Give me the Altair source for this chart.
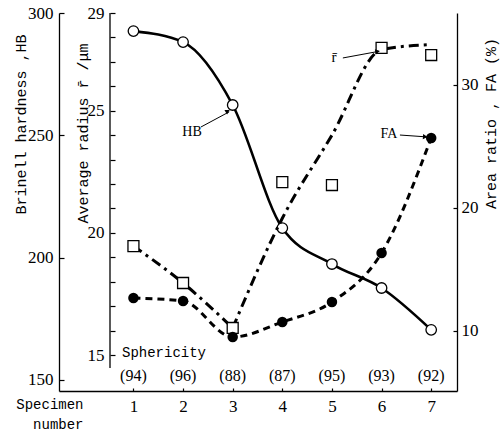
import altair as alt
import pandas as pd

# ---- data ----
specimen = [1, 2, 3, 4, 5, 6, 7]
hb_values = [292.6, 288.1, 262.4, 212.1, 197.4, 187.6, 170.5]
radius_values = [19.46, 17.95, 16.11, 22.08, 21.96, 27.57, 27.28]
fa_values = [12.68, 12.44, 9.51, 10.73, 12.36, 16.34, 25.69]
sphericity = [94, 96, 88, 87, 95, 93, 92]
# drawn (fitted) dash-dot curve for the average radius
radius_fit_x = [1, 2, 3, 3, 4, 5, 6, 6.92]
radius_fit = [19.46, 17.95, 16.11, 16.11, 20.6, 24.0, 27.5, 27.7]
radius_fit_seg = ["a", "a", "a", "b", "b", "b", "b", "b"]

df = pd.DataFrame({
    "specimen": specimen,
    "HB": hb_values,
    "r": radius_values,
    "FA": fa_values,
    "sph": ["(%d)" % s for s in sphericity],
})
fit_df = pd.DataFrame({"specimen": radius_fit_x, "r": radius_fit, "seg": radius_fit_seg})

SERIF = "Liberation Serif"
MONO = "Liberation Mono"

x_scale = alt.Scale(domain=[-0.5, 7.52], nice=False, zero=False)
x_axis = alt.Axis(
    values=specimen, format="d", grid=False,
    tickSize={"expr": "-3"}, labelPadding=10,
    labelFont=SERIF, labelFontSize=17, labelColor="black",
    title=["Specimen", "number"], titleFont=MONO, titleFontSize=14,
    titleFontWeight="normal", titleAlign="right", titleAnchor="start",
    titleX=24, titleY=6, titleBaseline="top", titleLineHeight=20,
    titleColor="black",
)


def xq(field="specimen"):
    return alt.X(f"{field}:Q", scale=x_scale, axis=x_axis)


# ---- HB (outer left axis) ----
hb_scale = alt.Scale(domain=[145.5, 300], nice=False, zero=False)
hb_axis = alt.Axis(
    orient="left", values=[150, 200, 250, 300], grid=False,
    tickSize={"expr": "-5"}, labelPadding=11,
    labelFont=SERIF, labelFontSize=17, labelColor="black",
    title="Brinell hardness ,HB", titleFont=MONO, titleFontSize=15,
    titleFontWeight="normal", titleAngle=270, titleAlign="center",
    titleBaseline="middle", titleX=-39, titleY=111, titleColor="black",
)


def yhb(field):
    return alt.Y(f"{field}:Q", scale=hb_scale, axis=hb_axis)


hb_line = alt.Chart(df).mark_line(color="black", strokeWidth=2.6, interpolate="monotone").encode(
    x=xq(), y=yhb("HB"))
hb_pts = alt.Chart(df).mark_point(shape="circle", filled=True, fill="white", stroke="black",
                                   strokeWidth=1.3, size=110, opacity=1).encode(x=xq(), y=yhb("HB"))

hb_ann = pd.DataFrame({"x": [2.18], "y": [251.4], "t": ["HB"]})
hb_arr = pd.DataFrame({"x": [2.36], "x2": [2.93], "y": [253.4], "y2": [259.6]})
hb_head = pd.DataFrame({"x": [2.9], "y": [259.9]})
hb_text = alt.Chart(hb_ann).mark_text(font=SERIF, fontSize=14, color="black").encode(
    x=xq("x"), y=yhb("y"), text="t:N")
hb_rule = alt.Chart(hb_arr).mark_rule(color="black", strokeWidth=1).encode(
    x=xq("x"), x2="x2:Q", y=yhb("y"), y2="y2:Q")
hb_tri = alt.Chart(hb_head).mark_point(shape="triangle-up", filled=True, color="black", size=28,
                                        angle=60, opacity=1).encode(x=xq("x"), y=yhb("y"))

sph_text = alt.Chart(df).mark_text(font=SERIF, fontSize=16, color="black").encode(
    x=xq(), y=alt.value(363), text="sph:N")
sph_title = alt.Chart(df.head(1)).mark_text(font=MONO, fontSize=14, color="black", align="left").encode(
    x=alt.value(63), y=alt.value(340), text=alt.value("Sphericity"))

hb_group = alt.layer(hb_line, hb_pts, hb_rule, hb_tri, hb_text, sph_text, sph_title)

# ---- average radius (inner left axis) ----
r_scale = alt.Scale(domain=[13.53, 29], nice=False, zero=False)
r_axis = alt.Axis(
    orient="left", offset=-51, values=list(range(15, 30)), domain=False, grid=False,
    labelExpr="indexof([15, 20, 25, 29], datum.value) >= 0 ? datum.label : ''",
    tickSize={"expr": "-5"}, labelPadding=11,
    labelFont=SERIF, labelFontSize=17, labelColor="black",
    title="Average radius  r\u0304 /\u03bcm", titleFont=MONO, titleFontSize=15,
    titleFontWeight="normal", titleAngle=270, titleAlign="center",
    titleBaseline="middle", titleX=-28, titleY=120, titleColor="black",
)


def yr(field):
    return alt.Y(f"{field}:Q", scale=r_scale, axis=r_axis)


axis_df = pd.DataFrame({"hi": [29], "lo": [14.47]})
r_axisline = alt.Chart(axis_df).mark_rule(color="black", strokeWidth=1.3).encode(
    x=alt.value(51), y=yr("hi"), y2="lo:Q")
r_line = alt.Chart(fit_df).mark_line(color="black", strokeWidth=3, strokeDash=[10, 5, 3, 5],
                                      interpolate="monotone").encode(
    x=xq("specimen"), y=yr("r"), detail="seg:N")
r_pts = alt.Chart(df).mark_point(shape="square", filled=True, fill="white", stroke="black",
                                  strokeWidth=1.3, size=120, opacity=1).encode(x=xq(), y=yr("r"))
r_ann = pd.DataFrame({"x": [5.04], "y": [27.2], "t": ["r\u0304"]})
r_arr = pd.DataFrame({"x": [5.22], "x2": [5.94], "y": [27.16], "y2": [27.43]})
r_head = pd.DataFrame({"x": [5.92], "y": [27.43]})
r_text = alt.Chart(r_ann).mark_text(font=SERIF, fontSize=15, color="black").encode(
    x=xq("x"), y=yr("y"), text="t:N")
r_rule = alt.Chart(r_arr).mark_rule(color="black", strokeWidth=1).encode(
    x=xq("x"), x2="x2:Q", y=yr("y"), y2="y2:Q")
r_tri = alt.Chart(r_head).mark_point(shape="triangle-up", filled=True, color="black", size=28,
                                      angle=79, opacity=1).encode(x=xq("x"), y=yr("y"))

r_group = alt.layer(r_axisline, r_line, r_pts, r_rule, r_tri, r_text)

# ---- area ratio (right axis) ----
fa_scale = alt.Scale(domain=[5.12, 35.85], nice=False, zero=False)
fa_axis = alt.Axis(
    orient="right", values=[10, 20, 30], grid=False,
    tickSize={"expr": "-4"}, labelPadding=8,
    labelFont=SERIF, labelFontSize=17, labelColor="black",
    title="Area ratio , FA (%)", titleFont=MONO, titleFontSize=15,
    titleFontWeight="normal", titleAngle=270, titleAlign="center",
    titleBaseline="middle", titleX=33, titleY=110, titleColor="black",
)


def yfa(field):
    return alt.Y(f"{field}:Q", scale=fa_scale, axis=fa_axis)


fa_line = alt.Chart(df).mark_line(color="black", strokeWidth=3, strokeDash=[7, 5],
                                   interpolate="monotone").encode(x=xq(), y=yfa("FA"))
fa_pts = alt.Chart(df).mark_circle(color="black", size=110, opacity=1).encode(x=xq(), y=yfa("FA"))
fa_ann = pd.DataFrame({"x": [6.15], "y": [26.0], "t": ["FA"]})
fa_arr = pd.DataFrame({"x": [6.37], "x2": [6.9], "y": [25.93], "y2": [25.78]})
fa_head = pd.DataFrame({"x": [6.88], "y": [25.78]})
fa_text = alt.Chart(fa_ann).mark_text(font=SERIF, fontSize=14, color="black").encode(
    x=xq("x"), y=yfa("y"), text="t:N")
fa_rule = alt.Chart(fa_arr).mark_rule(color="black", strokeWidth=1).encode(
    x=xq("x"), x2="x2:Q", y=yfa("y"), y2="y2:Q")
fa_tri = alt.Chart(fa_head).mark_point(shape="triangle-up", filled=True, color="black", size=28,
                                        angle=94, opacity=1).encode(x=xq("x"), y=yfa("y"))

fa_group = alt.layer(fa_line, fa_pts, fa_rule, fa_tri, fa_text)

chart = alt.layer(hb_group, r_group, fa_group).resolve_scale(y="independent").properties(
    width=398, height=378,
    padding={"left": 59, "top": 13, "right": 43, "bottom": 41},
    autosize=alt.AutoSizeParams(type="none"),
    background="white",
).configure_view(stroke=None).configure_axis(
    domainColor="black", tickColor="black", domainWidth=1.3, tickWidth=1.2,
)

chart.save("out.html", embed_options={"renderer": "svg", "actions": False})
